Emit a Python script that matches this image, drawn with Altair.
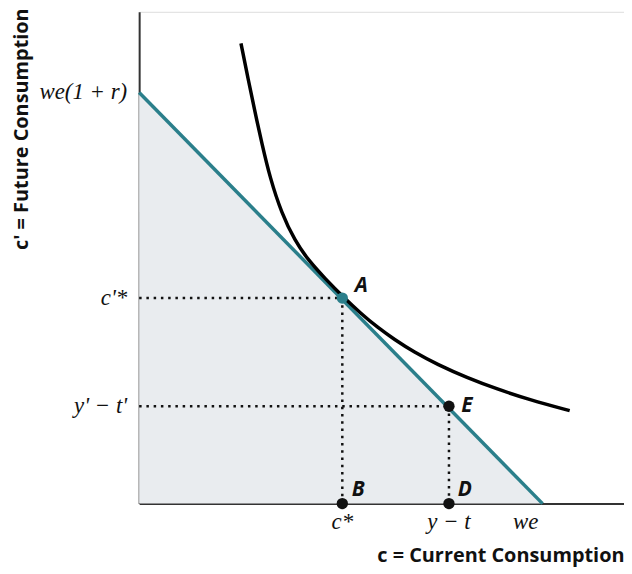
import altair as alt
import pandas as pd

# ---- data (in abstract consumption units) ----
we = 8.32          # x-intercept of budget line
we_r = 8.36        # y-intercept of budget line: we(1+r)
budget_x = [0, we]
budget_y = [we_r, 0]

curve_x = [2.10, 2.25, 2.39, 2.53, 2.70, 2.94, 3.21, 3.48, 3.84, 4.20, 4.58, 4.92, 5.26, 5.67, 6.15, 6.76, 7.38, 8.06, 8.88]
curve_y = [9.36, 8.62, 7.96, 7.33, 6.62, 5.90, 5.35, 4.96, 4.57, 4.21, 3.86, 3.58, 3.34, 3.08, 2.83, 2.56, 2.33, 2.11, 1.89]

c_star, cp_star = 4.19, 4.18      # point A
y_t, yp_tp = 6.39, 1.98           # point E

y_tick_vals = [we_r, cp_star, yp_tp]
y_tick_text = ["we(1 + r)", "c'*", "y' \u2212 t'"]
x_tick_vals = [c_star, y_t]
x_tick_text = ["c*", "y \u2212 t"]

TEAL = "#2b7f8b"
xs = alt.Scale(domain=[0, 10], nice=False, zero=False)
ys = alt.Scale(domain=[0, 10], nice=False, zero=False)

budget = pd.DataFrame({"x": budget_x, "y": budget_y})
curve = pd.DataFrame({"x": curve_x, "y": curve_y, "i": range(len(curve_x))})

X = alt.X("x:Q", scale=xs, axis=alt.Axis(
    title="c = Current Consumption", titleAnchor="end", titleFont="Open Sans",
    titleFontWeight="bold", titleFontSize=20, titleColor="#111", titlePadding=42,
    labels=False, ticks=False, grid=False, domainColor="#333", domainWidth=2))
Y = alt.Y("y:Q", scale=ys, axis=alt.Axis(
    title="c' = Future Consumption", titleAnchor="end", titleFont="Open Sans",
    titleFontWeight="bold", titleFontSize=20, titleColor="#111", titleAngle=-90,
    titleAlign="right", titleBaseline="middle", titleX=-118, titleY=-4,
    labels=False, ticks=False, grid=False, domainColor="#333", domainWidth=2))

area = alt.Chart(budget).mark_area(color="#e9ecef", opacity=1).encode(x=X, y=Y)
bline = alt.Chart(budget).mark_line(color=TEAL, strokeWidth=3.5).encode(
    x=alt.X("x:Q", scale=xs), y=alt.Y("y:Q", scale=ys))
icurve = alt.Chart(curve).mark_line(color="black", strokeWidth=3.5, interpolate="basis").encode(
    x=alt.X("x:Q", scale=xs), y=alt.Y("y:Q", scale=ys), order="i:Q")

dots = pd.DataFrame({
    "x": [0, c_star, 0, y_t],
    "x2": [c_star, c_star, y_t, y_t],
    "y": [cp_star, cp_star, yp_tp, yp_tp],
    "y2": [cp_star, 0, yp_tp, 0],
})
dotted = alt.Chart(dots).mark_rule(color="#111", strokeWidth=2.5, strokeDash=[2.5, 4.8]).encode(
    x=alt.X("x:Q", scale=xs), x2="x2:Q", y=alt.Y("y:Q", scale=ys), y2="y2:Q")

pts = pd.DataFrame({
    "x": [c_star, y_t, c_star, y_t],
    "y": [cp_star, yp_tp, 0, 0],
    "lab": ["A", "E", "B", "D"],
    "col": [TEAL, "#111", "#111", "#111"],
})
points = alt.Chart(pts).mark_circle(size=130, opacity=1).encode(
    x=alt.X("x:Q", scale=xs), y=alt.Y("y:Q", scale=ys), color=alt.Color("col:N", scale=None))

LBL = dict(font="Open Sans", fontWeight="bold", fontStyle="italic", fontSize=21, color="#111", baseline="middle")
labA = alt.Chart(pts[pts.lab == "A"]).mark_text(dx=19, dy=-12, **LBL).encode(
    x=alt.X("x:Q", scale=xs), y=alt.Y("y:Q", scale=ys), text="lab:N")
labE = alt.Chart(pts[pts.lab == "E"]).mark_text(dx=18, dy=0, **LBL).encode(
    x=alt.X("x:Q", scale=xs), y=alt.Y("y:Q", scale=ys), text="lab:N")
labBD = alt.Chart(pts[pts.lab.isin(["B", "D"])]).mark_text(dx=16, dy=-14, **LBL).encode(
    x=alt.X("x:Q", scale=xs), y=alt.Y("y:Q", scale=ys), text="lab:N")

TK = dict(font="Liberation Serif", fontStyle="italic", fontSize=23, color="#111", baseline="middle")
ylab = alt.Chart(pd.DataFrame({"y": y_tick_vals, "t": y_tick_text, "x": [0] * 3})).mark_text(
    align="right", dx=-12, **TK).encode(x=alt.X("x:Q", scale=xs), y=alt.Y("y:Q", scale=ys), text="t:N")
xlab = alt.Chart(pd.DataFrame({"x": x_tick_vals, "t": x_tick_text, "y": [0] * 2})).mark_text(
    align="center", dy=19, **TK).encode(x=alt.X("x:Q", scale=xs), y=alt.Y("y:Q", scale=ys), text="t:N")
welab = alt.Chart(pd.DataFrame({"x": [we], "t": ["we"], "y": [0]})).mark_text(
    align="center", dx=-17, dy=19, **TK).encode(x=alt.X("x:Q", scale=xs), y=alt.Y("y:Q", scale=ys), text="t:N")

chart = alt.layer(area, bline, icurve, dotted, points, labA, labE, labBD, ylab, xlab, welab).properties(
    width=488, height=495,
    autosize=alt.AutoSizeParams(type="none"),
    padding={"left": 132, "top": 2, "right": 0, "bottom": 69},
).configure_view(stroke=None).configure(background="white")

chart.save("out.html", embed_options={"renderer": "svg", "actions": False})
